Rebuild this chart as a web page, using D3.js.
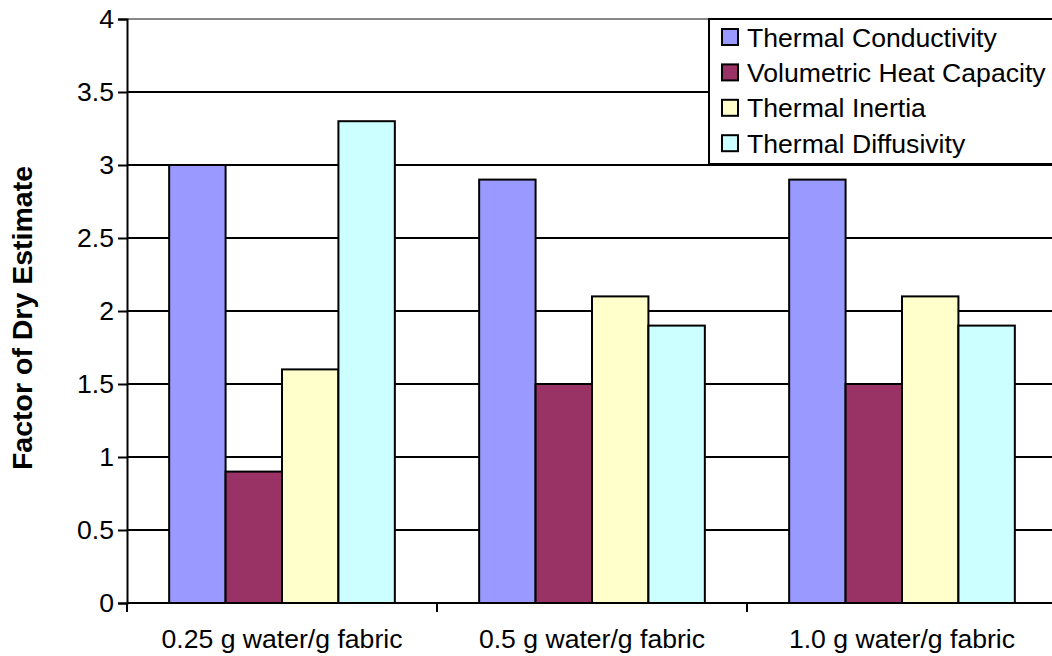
<!DOCTYPE html>
<html>
<head>
<meta charset="utf-8">
<script src="https://cdn.jsdelivr.net/npm/d3@7"></script>
<style>
body{margin:0;background:#fff;}
text{font-family:"Liberation Sans",Arial,sans-serif;fill:#000;}
</style>
</head>
<body>
<div id="chart-area"></div>
<script>
var categories=["0.25 g water/g fabric","0.5 g water/g fabric","1.0 g water/g fabric"];
var series=["Thermal Conductivity","Volumetric Heat Capacity","Thermal Inertia","Thermal Diffusivity"];
var conductivity=[3.0,2.9,2.9];
var heatCapacity=[0.9,1.5,1.5];
var inertia=[1.6,2.1,2.1];
var diffusivity=[3.3,1.9,1.9];
var yTicks=[0,0.5,1,1.5,2,2.5,3,3.5,4];
var colors=["#9999ff","#993366","#ffffcc","#ccffff"];

var values=[conductivity,heatCapacity,inertia,diffusivity];
var width=1052, height=656;
var plot={left:127,right:1057,top:19,bottom:603};

var svg=d3.select("#chart-area").append("svg")
	.attr("width",width)
	.attr("height",height);

var x0=d3.scaleBand()
	.domain(categories)
	.range([plot.left,plot.right])
	.paddingInner(0.272)
	.paddingOuter(0.136);

var x1=d3.scaleBand()
	.domain(series)
	.range([0,x0.bandwidth()]);

var y=d3.scaleLinear()
	.domain([0,4])
	.range([plot.bottom,plot.top]);

// gridlines
svg.append("g")
	.selectAll("line")
	.data(yTicks.filter(function(d){return d>0;}))
	.enter().append("line")
	.attr("x1",plot.left).attr("x2",plot.right)
	.attr("y1",function(d){return y(d);})
	.attr("y2",function(d){return y(d);})
	.attr("stroke",function(d){return d==4?"#888":"#000";})
	.attr("stroke-width",2);

// bars
var groups=svg.append("g")
	.selectAll("g")
	.data(categories)
	.enter().append("g")
	.attr("transform",function(d){return "translate("+x0(d)+",0)";});

groups.selectAll("rect")
	.data(function(c,i){return series.map(function(s,j){return {s:s,v:values[j][i],c:colors[j]};});})
	.enter().append("rect")
	.attr("x",function(d){return x1(d.s);})
	.attr("width",x1.bandwidth())
	.attr("y",function(d){return y(d.v);})
	.attr("height",function(d){return y(0)-y(d.v);})
	.attr("fill",function(d){return d.c;})
	.attr("stroke","#000")
	.attr("stroke-width",2);

// y axis
var leftAxis=d3.axisLeft(y)
	.tickValues(yTicks)
	.tickFormat(d3.format(""))
	.tickSize(9)
	.tickPadding(4);

var ya=svg.append("g")
	.attr("transform","translate("+plot.left+",0)")
	.call(leftAxis);
ya.select(".domain").attr("stroke","#000").attr("stroke-width",2);
ya.selectAll(".tick line").attr("stroke","#000").attr("stroke-width",2);
ya.selectAll("text")
	.attr("font-size","26.6px")
	.attr("font-family","Liberation Sans, Arial, sans-serif")
	.attr("fill","#000");

// x axis
svg.append("line")
	.attr("x1",plot.left).attr("x2",plot.right)
	.attr("y1",plot.bottom).attr("y2",plot.bottom)
	.attr("stroke","#000").attr("stroke-width",2);

var bounds=[plot.left].concat(categories.map(function(c){return x0(c)+x0.bandwidth()+x0.step()*0.136;}));
svg.append("g")
	.selectAll("line")
	.data(bounds)
	.enter().append("line")
	.attr("x1",function(d){return d;}).attr("x2",function(d){return d;})
	.attr("y1",plot.bottom).attr("y2",plot.bottom+9)
	.attr("stroke","#000").attr("stroke-width",2);

svg.append("g")
	.selectAll("text")
	.data(categories)
	.enter().append("text")
	.attr("x",function(d){return x0(d)+x0.bandwidth()/2;})
	.attr("y",648)
	.attr("text-anchor","middle")
	.attr("font-size","26.6px")
	.text(function(d){return d;});

// y title
svg.append("text")
	.attr("transform","translate(32,318) rotate(-90)")
	.attr("text-anchor","middle")
	.attr("font-size","28.5px")
	.attr("font-weight","bold")
	.text("Factor of Dry Estimate");

// legend
var legend=svg.append("g");
legend.append("rect")
	.attr("x",709).attr("y",19)
	.attr("width",400).attr("height",145)
	.attr("fill","#fff")
	.attr("stroke","#000")
	.attr("stroke-width",2);

series.forEach(function(s,i){
	var row=legend.append("g")
		.attr("transform","translate(722,"+(37+i*35.4)+")");
	row.append("rect")
		.attr("x",0).attr("y",-8)
		.attr("width",16).attr("height",16)
		.attr("fill",colors[i])
		.attr("stroke","#000")
		.attr("stroke-width",2);
	row.append("text")
		.attr("x",25)
		.attr("y",9.5)
		.attr("font-size","26.6px")
		.text(s);
});
</script>
</body>
</html>
